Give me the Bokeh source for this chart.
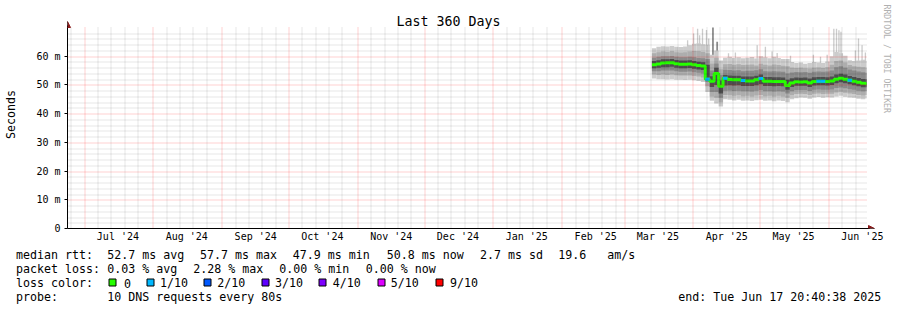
import datetime as dt
import math
from bokeh.plotting import figure
from bokeh.layouts import column
from bokeh.models import FixedTicker, Label, Arrow, NormalHead, Range1d, ColumnDataSource
from bokeh.core.properties import value
from bokeh.embed import file_html
from bokeh.resources import INLINE

# ---------------- data ----------------
END = dt.datetime(2025, 6, 17, 20, 40, 38)
SPAN_DAYS = 360
START = END - dt.timedelta(days=SPAN_DAYS)

month_labels = ["Jul '24", "Aug '24", "Sep '24", "Oct '24", "Nov '24", "Dec '24",
                "Jan '25", "Feb '25", "Mar '25", "Apr '25", "May '25", "Jun '25"]
y_ticks = [0, 10, 20, 30, 40, 50, 60]
y_tick_labels = ["0", "10 m", "20 m", "30 m", "40 m", "50 m", "60 m"]

# smoke data, 2-day bins starting at day 263.45 of the 360-day window (values in ms)
bin_first_day = 263.45
bin_width_days = 2.0
median = [57.0, 57.3, 57.6, 57.7, 57.7, 57.4, 57.2, 57.2, 57.3, 57.0, 56.8, 56.6,
          52.0, 51.3, 54.0, 49.5,
          52.3, 51.9, 51.8, 51.8, 51.5, 51.4, 51.4, 51.8, 52.2, 51.3, 51.3, 51.2, 51.2, 51.2,
          49.8, 50.7, 51.1, 51.0, 51.1, 50.7, 51.2, 51.3, 51.3, 51.2, 51.4,
          52.0, 52.3, 52.0, 51.6, 51.3, 50.9, 50.6, 50.5]
loss = [0, 0, 0, 0, 0, 0, 0, 0, 0, 0, 0, 0,
        1, 0, 0, 0,
        1, 0, 0, 0, 1, 0, 0, 0, 1, 0, 0, 0, 0, 0,
        0, 0, 0, 0, 0, 0, 0, 1, 1, 0, 0,
        0, 0, 0, 1, 0, 0, 0, 0]
light_lo = [52.2, 52.0, 52.0, 51.9, 52.0, 51.8, 51.8, 51.7, 51.8, 51.6, 51.4, 51.0,
            47.5, 44.5, 43.5, 42.5,
            45.0, 44.8, 44.6, 44.8, 44.5, 44.6, 44.4, 44.7, 44.8, 44.5, 44.6, 44.3, 44.6, 44.4,
            44.0, 45.0, 45.4, 45.6, 45.5, 45.2, 45.6, 45.8, 45.5, 45.7, 45.6,
            46.0, 46.2, 45.9, 45.6, 45.5, 45.2, 45.0, 45.3]
light_hi = [62.8, 63.3, 63.5, 63.4, 63.6, 63.3, 63.2, 63.4, 63.8, 64.3, 64.5, 64.2,
            64.0, 60.5, 62.0, 58.5,
            59.5, 59.8, 59.4, 59.6, 59.3, 59.5, 59.7, 59.2, 60.0, 59.6, 59.3, 59.8, 59.4, 59.0,
            59.0, 58.0, 57.6, 57.8, 57.4, 57.6, 58.0, 57.8, 57.6, 58.2, 60.0,
            61.5, 61.0, 60.2, 58.6, 58.3, 58.5, 58.8, 58.4]
mid_lo = [53.6, 53.5, 53.6, 53.5, 53.6, 53.4, 53.3, 53.3, 53.3, 53.1, 52.9, 52.6,
          49.5, 46.0, 45.5, 44.0,
          46.5, 46.4, 46.2, 46.4, 46.1, 46.2, 46.0, 46.3, 46.5, 46.1, 46.2, 46.0, 46.2, 46.0,
          45.5, 46.4, 46.8, 46.9, 46.8, 46.5, 46.9, 47.0, 46.8, 46.9, 46.9,
          47.4, 47.6, 47.3, 47.0, 46.8, 46.5, 46.3, 46.5]
mid_hi = [61.0, 61.4, 61.6, 61.5, 61.7, 61.4, 61.3, 61.4, 61.6, 61.8, 61.7, 61.5,
          61.0, 57.5, 59.5, 55.5,
          57.2, 57.3, 57.0, 57.2, 56.9, 57.0, 57.1, 56.8, 57.4, 57.0, 56.8, 57.1, 56.9, 56.7,
          56.5, 56.0, 55.9, 56.0, 55.8, 55.7, 56.0, 56.1, 55.9, 56.2, 57.0,
          58.3, 58.5, 57.8, 56.9, 56.5, 56.3, 56.2, 56.0]
dark_lo = [54.8, 54.8, 55.0, 55.0, 55.0, 54.8, 54.6, 54.6, 54.7, 54.4, 54.2, 54.0,
           51.0, 47.5, 47.5, 45.5,
           48.0, 48.1, 47.9, 48.0, 47.8, 47.8, 47.7, 48.0, 48.2, 47.8, 47.8, 47.7, 47.8, 47.7,
           47.0, 47.8, 48.2, 48.2, 48.2, 47.9, 48.3, 48.4, 48.3, 48.3, 48.4,
           48.9, 49.1, 48.8, 48.5, 48.3, 48.0, 47.8, 47.9]
dark_hi = [59.5, 59.8, 60.0, 60.0, 60.1, 59.8, 59.6, 59.6, 59.8, 59.6, 59.4, 59.3,
           59.0, 55.0, 57.5, 53.5,
           55.3, 55.2, 55.0, 55.1, 54.8, 54.9, 54.9, 55.1, 55.5, 54.8, 54.7, 54.8, 54.7, 54.6,
           54.0, 54.3, 54.5, 54.4, 54.5, 54.2, 54.6, 54.7, 54.6, 54.7, 55.0,
           56.2, 56.5, 56.0, 55.4, 55.0, 54.7, 54.4, 54.2]
core_lo = [55.8, 56.0, 56.2, 56.2, 56.3, 56.0, 55.8, 55.8, 55.9, 55.6, 55.4, 55.2,
           52.5, 49.3, 50.0, 47.0,
           49.8, 49.9, 49.8, 49.9, 49.6, 49.6, 49.6, 49.9, 50.2, 49.6, 49.6, 49.5, 49.6, 49.5,
           48.3, 49.3, 49.7, 49.7, 49.7, 49.3, 49.8, 49.9, 49.9, 49.8, 50.0,
           50.6, 50.9, 50.6, 50.2, 49.9, 49.5, 49.2, 49.2]
core_hi = [58.3, 58.6, 58.9, 58.9, 59.0, 58.7, 58.5, 58.5, 58.6, 58.3, 58.1, 57.9,
           57.0, 53.0, 56.0, 51.5,
           53.5, 53.3, 53.2, 53.2, 52.9, 52.9, 52.9, 53.2, 53.6, 52.8, 52.8, 52.7, 52.7, 52.6,
           51.8, 52.3, 52.6, 52.5, 52.6, 52.2, 52.7, 52.8, 52.8, 52.7, 52.9,
           53.6, 53.9, 53.6, 53.1, 52.8, 52.4, 52.1, 52.0]

# single-ping outliers (day within window, max rtt in ms)
spike_day = [279.5, 282.2, 284.0, 284.9, 286.2, 288.0, 289.0, 297.9, 301.0, 310.8,
             314.5, 317.5, 319.8, 325.8, 336.1, 339.3, 342.3, 345.3, 346.5, 347.6,
             348.5, 355.0, 356.4, 358.0, 359.5]
spike_top = [65.6, 67.9, 69.6, 67.3, 69.6, 69.1, 66.2, 61.0, 61.3, 63.8,
             63.3, 61.6, 61.1, 60.2, 60.5, 59.8, 60.5, 69.6, 69.6, 69.0,
             68.5, 62.0, 66.2, 63.8, 61.3]
wide_spike_day = [290.9, 292.8]
wide_spike_top = [70.0, 65.0]

loss_colors = ["#26ff00", "#00b8ff", "#0059ff", "#5e00ff", "#7e00ff", "#dd00ff", "#ff0000"]
loss_names = ["0", "1/10", "2/10", "3/10", "4/10", "5/10", "9/10"]

legend_rtt = ["median rtt:", "52.7 ms avg", "57.7 ms max", "47.9 ms min", "50.8 ms now",
              "2.7 ms sd", "19.6   am/s"]
legend_loss = ["packet loss:", "0.03 % avg", "2.28 % max", "0.00 % min", "0.00 % now"]
legend_color = ["loss color:"]
legend_probe = ["probe:", "10 DNS requests every 80s"]
legend_end = ["end: Tue Jun 17 20:40:38 2025"]
title_text = "Last 360 Days"
watermark = "RRDTOOL / TOBI OETIKER"

# ---------------- layout ----------------
W = 897
H_MAIN = 248
H_LEG = 310 - H_MAIN
X_ORG = 66                    # pixel of the window start
FL, FB = 67, 228              # frame left / graph bottom (pixels)
GR, GT = 866, 27              # graph right / graph top (pixels)
Y_TOP_VAL = 70.0
PXD = (GR - X_ORG) / SPAN_DAYS   # pixels per day
PPU = (FB - GT) / Y_TOP_VAL      # pixels per ms
MONO = "DejaVu Sans Mono"
NBSP = "\u00a0"
BASE_FIX = 3.5                # alphabetic baseline correction of the renderer


def keep_spaces(s):
    return s.replace(" ", NBSP)


def dday(d):
    return (d - START).total_seconds() / 86400.0


def xd(px):
    return (px - X_ORG) / PXD


def yd(py):
    return (FB - py) / PPU


def snap_x(day_val):
    return xd(math.floor(X_ORG + day_val * PXD) + 0.5)


def snap_y(v):
    return yd(round(FB - v * PPU) + 0.5)


month_starts = [dt.datetime(2024, m, 1) for m in range(7, 13)] + \
               [dt.datetime(2025, m, 1) for m in range(1, 7)]
major_x = [dday(m) for m in month_starts]
label_x = [round(dday(m + dt.timedelta(days=15)), 3) for m in month_starts]
minor_x = []
for yy, mm in [(2024, 6)] + [(2024, k) for k in range(7, 13)] + [(2025, k) for k in range(1, 7)]:
    for d in (7, 13, 19, 25):
        v = dday(dt.datetime(yy, mm, d))
        if 0 < v < SPAN_DAYS:
            minor_x.append(v)
major_y = [10, 20, 30, 40, 50, 60]
minor_y = [v for v in range(2, 70, 2) if v % 10]

p = figure(width=W, height=H_MAIN, output_backend="svg", toolbar_location=None, title=None,
           x_range=Range1d(xd(FL), xd(W)), y_range=Range1d(0, yd(0)),
           min_border_left=FL, min_border_right=0, min_border_top=0,
           min_border_bottom=H_MAIN - FB)
p.outline_line_color = None
p.background_fill_color = "white"
p.border_fill_color = "white"
p.xgrid.visible = False
p.ygrid.visible = False

# axes
xa = p.xaxis[0]
xa.ticker = FixedTicker(ticks=label_x)
xa.major_label_overrides = {k: v for k, v in zip(label_x, month_labels)}
xa.major_tick_out = 0
xa.major_tick_in = 0
xa.minor_tick_out = 0
xa.minor_tick_in = 0
xa.major_label_standoff = 2
xa.axis_line_color = "black"
xa.bounds = (xd(63), xd(869))
xa.major_label_text_font = MONO
xa.major_label_text_font_size = "10px"
xa.major_label_text_color = "black"

ya = p.yaxis[0]
ya.ticker = FixedTicker(ticks=y_ticks)
ya.major_label_overrides = {k: v for k, v in zip(y_ticks, y_tick_labels)}
ya.major_tick_out = 3
ya.major_tick_in = 0
ya.minor_tick_out = 0
ya.minor_tick_in = 0
ya.major_label_standoff = 4
ya.axis_line_color = "black"
ya.bounds = (0, yd(25))
ya.major_label_text_font = MONO
ya.major_label_text_font_size = "10px"
ya.major_label_text_color = "black"
ya.axis_label = "Seconds"
ya.axis_label_text_font = MONO
ya.axis_label_text_font_size = "11.63px"
ya.axis_label_text_font_style = "normal"
ya.axis_label_text_color = "black"
ya.axis_label_standoff = 15

# ---------------- smoke ----------------
n = len(median)
left = [bin_first_day + i * bin_width_days for i in range(n)]
right = [min(l + bin_width_days, SPAN_DAYS) for l in left]

p.vbar(x=spike_day, width=0.6, bottom=[55.0] * len(spike_day), top=spike_top,
       fill_color="#cccccc", line_color=None)
p.vbar(x=wide_spike_day, width=0.8, bottom=[50.0] * len(wide_spike_day), top=wide_spike_top,
       fill_color="#8c8c8c", line_color=None)

for lo, hi, col in [(light_lo, light_hi, "#cccccc"), (mid_lo, mid_hi, "#adadad"),
                    (dark_lo, dark_hi, "#8a8a8a"), (core_lo, core_hi, "#4e4e4e")]:
    src = ColumnDataSource(dict(left=left, right=right, bottom=lo, top=hi))
    p.quad(left="left", right="right", bottom="bottom", top="top", source=src,
           fill_color=col, line_color=None)

p.step(x=left + [SPAN_DAYS], y=median + [median[-1]], mode="after",
       line_color=loss_colors[0], line_width=3)
lx0 = [l for l, f in zip(left, loss) if f]
lx1 = [r for r, f in zip(right, loss) if f]
ly = [m for m, f in zip(median, loss) if f]
p.segment(x0=lx0, x1=lx1, y0=ly, y1=ly, line_color=loss_colors[1], line_width=3)

# ---------------- grid (rrdtool draws it over the graph) ----------------
x_lo, x_hi = xd(FL), xd(GR + 1)
y_lo, y_hi = 0, Y_TOP_VAL
mx = [snap_x(v) for v in minor_x]
p.segment(x0=mx, x1=mx, y0=[y_lo] * len(mx), y1=[y_hi] * len(mx),
          line_color="black", line_alpha=0.2, line_width=1, line_dash="1 1")
my = [snap_y(v) for v in minor_y]
p.segment(x0=[x_lo] * len(my), x1=[x_hi] * len(my), y0=my, y1=my,
          line_color="black", line_alpha=0.2, line_width=1, line_dash="1 1")
Mx = [snap_x(v) for v in major_x]
p.segment(x0=Mx, x1=Mx, y0=[y_lo] * len(Mx), y1=[y_hi] * len(Mx),
          line_color="#ff0000", line_alpha=0.36, line_width=1, line_dash="1 1")
My = [snap_y(v) for v in major_y]
p.segment(x0=[x_lo] * len(My), x1=[x_hi] * len(My), y0=My, y1=My,
          line_color="#ff0000", line_alpha=0.36, line_width=1, line_dash="1 1")

# axis arrows
ARROW = "#8b1a1a"
p.add_layout(Arrow(x_start=xd(FL), y_start=yd(26), x_end=xd(FL), y_end=yd(21),
                   line_color="black", line_width=1,
                   end=NormalHead(size=6, fill_color=ARROW, line_color=ARROW)))
p.add_layout(Arrow(x_start=xd(868), y_start=0, x_end=xd(874), y_end=0,
                   line_color="black", line_width=1,
                   end=NormalHead(size=6, fill_color=ARROW, line_color=ARROW)))

# texts inside the main canvas
p.add_layout(Label(x=xd(448), y=yd(24 - BASE_FIX), text=title_text, text_font=MONO,
                   text_font_size="13.3px", text_color="black", text_align="center",
                   text_baseline="alphabetic"))
p.add_layout(Label(x=xd(886.5), y=yd(4), text=watermark, text_font=MONO,
                   text_font_size="8.2px", text_color="#b0b0b0", text_align="left",
                   text_baseline="middle", angle=-math.pi / 2))

# ---------------- legend panel (pixel coordinates of the page) ----------------
pl = figure(width=W, height=H_LEG, output_backend="svg", toolbar_location=None, title=None,
            x_range=Range1d(0, W), y_range=Range1d(310, H_MAIN),
            x_axis_type=None, y_axis_type=None,
            min_border_left=0, min_border_right=0, min_border_top=0, min_border_bottom=0)
pl.outline_line_color = None
pl.background_fill_color = "white"
pl.border_fill_color = "white"

for fig in (p, pl):
    if "frame_align" in fig.properties():
        fig.frame_align = False

rows = [(legend_rtt, [15.5, 106.8, 199.5, 292.2, 386.2, 479.5, 557.8], 258),
        (legend_loss, [15.5, 106.8, 192.8, 278.8, 365.2], 272),
        (legend_color + loss_names, [15.5, 123.5, 159.5, 216.8, 274.5, 332.2, 390.2, 449.5], 286),
        (legend_probe + legend_end, [15.5, 106.8, 677.8], 300)]
tx, ty, tt = [], [], []
for texts, xs, base in rows:
    for s, x in zip(texts, xs):
        tx.append(x)
        ty.append(base - BASE_FIX)
        tt.append(keep_spaces(s))
pl.text(x="x", y="y", text="t", source=ColumnDataSource(dict(x=tx, y=ty, t=tt)),
        text_font=value(MONO), text_font_size=value("11.63px"), text_color="black",
        text_align="left", text_baseline="alphabetic")
sq_x = [108, 146, 203, 261, 318, 377, 435]
pl.quad(left=[s + 0.5 for s in sq_x], right=[s + 7.5 for s in sq_x],
        top=[278.5] * len(sq_x), bottom=[285.5] * len(sq_x),
        fill_color=loss_colors, line_color="black", line_width=1)

root = column(p, pl, spacing=0)
open("out.html", "w").write(file_html(root, INLINE))
